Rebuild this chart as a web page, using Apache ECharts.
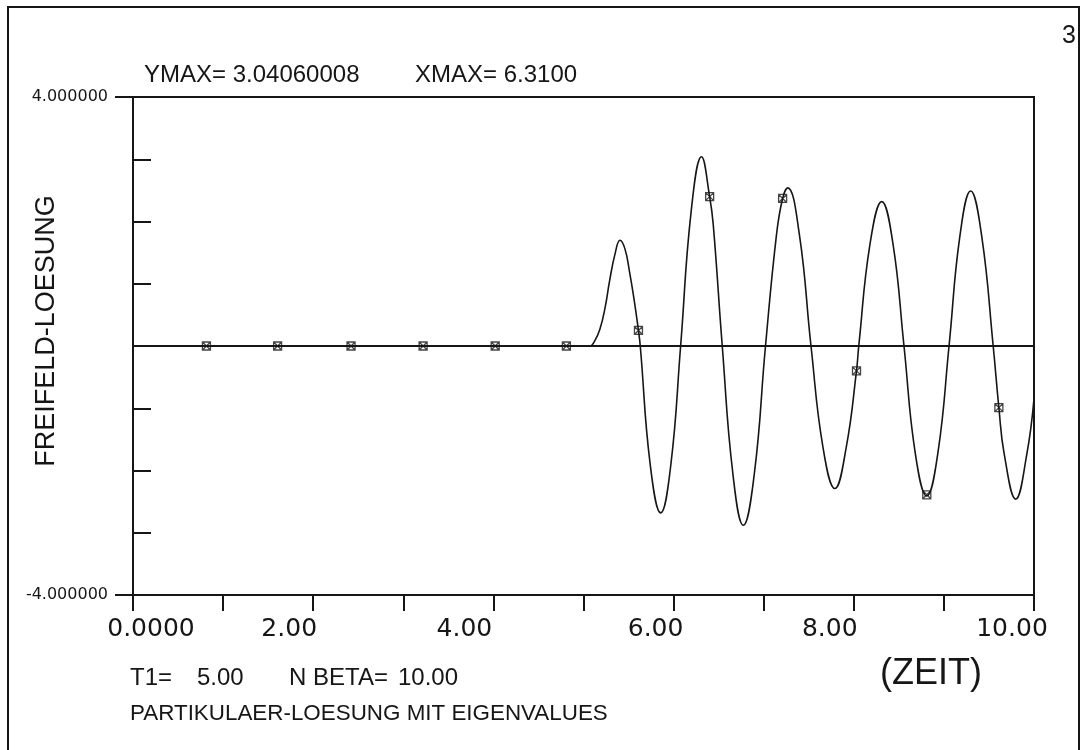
<!DOCTYPE html>
<html>
<head>
<meta charset="utf-8">
<script src="https://cdn.jsdelivr.net/npm/echarts@6/dist/echarts.min.js"></script>
<style>
html,body{margin:0;padding:0;background:#fff;}
#chart{width:1080px;height:750px;}
</style>
</head>
<body>
<div id="chart"></div>
<script>
// ---- data ----
const curveX = [0, 1, 2, 3, 4, 5, 5.07, 5.12, 5.18, 5.24, 5.29, 5.35, 5.405, 5.46, 5.51, 5.56, 5.61, 5.63,
  5.74, 5.857, 5.97, 6.078, 6.194, 6.31, 6.40, 6.44, 6.54, 6.657, 6.774, 6.897, 7.02, 7.143, 7.21, 7.266,
  7.395, 7.525, 7.657, 7.79, 7.917, 8.03, 8.055, 8.18, 8.31, 8.435, 8.557, 8.68, 8.81, 8.935, 9.057,
  9.177, 9.297, 9.42, 9.547, 9.61, 9.67, 9.797, 9.92, 10.0];
const curveY = [0, 0, 0, 0, 0, 0, 0, 0.07, 0.26, 0.62, 1.05, 1.48, 1.70, 1.56, 1.20, 0.76, 0.25, 0,
  -1.90, -2.68, -1.90, 0, 2.15, 3.04, 2.40, 1.95, 0, -2.04, -2.88, -2.04, 0, 1.80, 2.37, 2.54,
  1.80, 0, -1.62, -2.29, -1.62, -0.40, 0, 1.64, 2.32, 1.64, 0, -1.70, -2.41, -1.70, 0,
  1.76, 2.49, 1.76, 0, -0.99, -1.74, -2.46, -1.74, -0.85];
const markerX = [0.815, 1.605, 2.42, 3.22, 4.02, 4.81, 5.61, 6.40, 7.21, 8.03, 8.81, 9.61];
const markerY = [0, 0, 0, 0, 0, 0, 0.25, 2.40, 2.37, -0.40, -2.39, -0.99];
const xTickValues = [0, 2, 4, 6, 8, 10];
const xTickLabels = ['0.0000', '2.00', '4.00', '6.00', '8.00', '10.00'];
const yTickValues = [-4, 4];
const yTickLabels = ['-4.000000', '4.000000'];
const headerTexts = ['YMAX= 3.04060008', 'XMAX= 6.3100'];
const pageNumber = '3';
const yTitle = 'FREIFELD-LOESUNG';
const xTitle = '(ZEIT)';
const paramTexts = ['T1=', '5.00', 'N BETA=', '10.00'];
const footerText = 'PARTIKULAER-LOESUNG MIT EIGENVALUES';

// ---- build ----
const ink = '#161616';
const curve = curveX.map((x, i) => [x, curveY[i]]);
const markers = markerX.map((x, i) => [x, markerY[i]]);

const xShift = [[0,0,0,36],[0,48,0,0],[0,58,0,0],[0,36,0,0],[0,48,0,0],[0,44,0,0]];
const rich = {};
xShift.forEach((p, i) => {
  rich['t' + i] = {fontFamily: 'DejaVu Sans', fontSize: 25, color: ink, padding: p};
});

const chart = echarts.init(document.getElementById('chart'), null, {renderer: 'canvas'});
const txt = (t, x, y, size, extra) => Object.assign({
  type: 'text', left: x, top: y,
  style: {text: t, fontFamily: 'Liberation Sans', fontSize: size, fill: ink}
}, extra || {});

chart.setOption({
  backgroundColor: '#fff',
  animation: false,
  grid: {left: 133, top: 97, right: 46, bottom: 155, show: true, borderColor: ink, borderWidth: 2, backgroundColor: 'transparent'},
  xAxis: {
    type: 'value', min: 0, max: 10, interval: 1,
    axisLine: {show: true, onZero: false, lineStyle: {color: ink, width: 2}},
    axisTick: {show: true, inside: false, length: 16, lineStyle: {color: ink, width: 2}},
    splitLine: {show: false},
    axisLabel: {
      margin: 22, color: ink, fontFamily: 'DejaVu Sans', fontSize: 25,
      showMinLabel: true, showMaxLabel: true,
      formatter: v => {
        const i = xTickValues.indexOf(v);
        return i < 0 ? '' : '{t' + i + '|' + xTickLabels[i] + '}';
      },
      rich: rich
    }
  },
  yAxis: [{
    type: 'value', min: -4, max: 4, interval: 1,
    axisLine: {show: true, onZero: false, lineStyle: {color: ink, width: 2}},
    axisTick: {show: true, inside: true, length: 18, lineStyle: {color: ink, width: 2}},
    axisLabel: {show: false},
    splitLine: {show: false}
  }, {
    type: 'value', min: -4, max: 4, interval: 8, position: 'left',
    axisLine: {show: false, onZero: false},
    axisTick: {show: true, inside: false, length: 18, lineStyle: {color: ink, width: 2}},
    axisLabel: {
      show: true, margin: 25, color: ink, fontFamily: 'DejaVu Sans', fontSize: 16,
      padding: [9, 0, 0, 0],
      showMinLabel: true, showMaxLabel: true,
      formatter: v => {
        const i = yTickValues.indexOf(v);
        return i < 0 ? '' : yTickLabels[i];
      }
    },
    splitLine: {show: false}
  }],
  series: [{
    type: 'line', data: curve, yAxisIndex: 0, smooth: 0.45, showSymbol: false,
    lineStyle: {color: ink, width: 1.6}, z: 3,
    markLine: {
      silent: true, symbol: ['none', 'none'], label: {show: false},
      lineStyle: {color: ink, width: 2, type: 'solid'},
      data: [{yAxis: 0}]
    }
  }, {
    type: 'scatter', data: markers, yAxisIndex: 0,
    symbol: 'path://M0,0L10,0L10,10L0,10ZM0,0L10,10M10,0L0,10',
    symbolSize: 8,
    itemStyle: {color: 'rgba(0,0,0,0)', borderColor: ink, borderWidth: 1.3}, z: 4
  }],
  graphic: [
    {type: 'polyline', shape: {points: [[8, 760], [8, 7], [1079, 7], [1079, 760]]},
     style: {stroke: ink, lineWidth: 2, fill: null}},
    txt(headerTexts[0], 144, 63, 24),
    txt(headerTexts[1], 415, 63, 24),
    txt(pageNumber, 1062, 24, 25),
    {type: 'text', x: 47, y: 331, rotation: Math.PI / 2,
     style: {text: yTitle, fontFamily: 'Liberation Sans', fontSize: 27, fill: ink, align: 'center', verticalAlign: 'middle'}},
    txt(xTitle, 880, 656, 36),
    txt(paramTexts[0], 130, 666, 24),
    txt(paramTexts[1], 197, 666, 24),
    txt(paramTexts[2], 289, 666, 24),
    txt(paramTexts[3], 398, 666, 24),
    txt(footerText, 130, 703, 22.4)
  ]
});
</script>
</body>
</html>
